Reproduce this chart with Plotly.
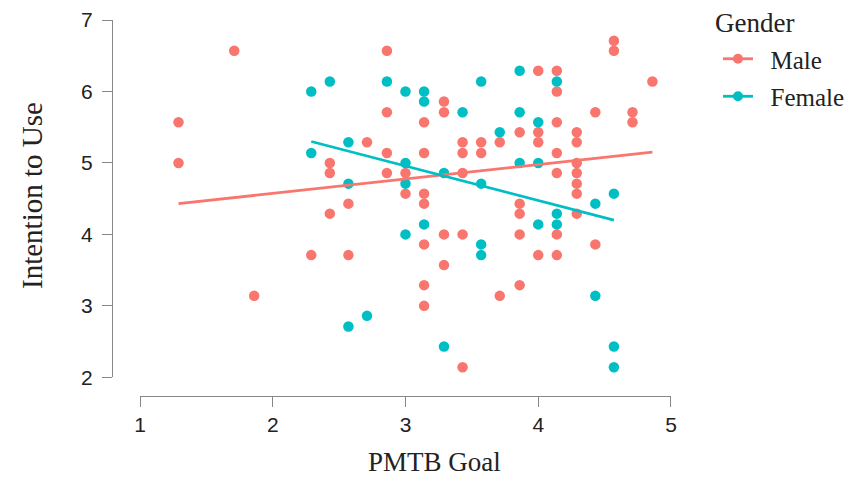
import plotly.graph_objects as go

# ---- data ----
male_x = [1.71, 1.29, 1.29, 2.86, 2.86, 2.71, 2.86, 2.43, 2.43, 2.86, 2.57, 2.43, 2.29, 2.57, 1.86,
          3.29, 3.29, 3.14, 4.00, 4.14, 4.14, 4.57, 4.57, 4.86, 4.43, 4.71, 4.71, 4.14, 3.86, 4.00,
          4.29, 3.43, 3.57, 3.71, 4.00, 4.29, 3.14, 3.43, 3.57, 4.14, 4.29, 3.00, 3.43, 4.14, 4.29,
          4.29, 3.00, 3.14, 4.29, 3.14, 3.86, 3.86, 4.29, 3.29, 3.43, 3.86, 4.14, 3.14, 4.43, 4.00,
          4.14, 3.29, 3.14, 3.86, 3.71, 3.14, 3.43]
male_y = [6.57, 5.57, 5.00, 6.57, 5.71, 5.29, 5.14, 5.00, 4.86, 4.86, 4.43, 4.29, 3.71, 3.71, 3.14,
          5.86, 5.71, 5.57, 6.29, 6.29, 6.00, 6.71, 6.57, 6.14, 5.71, 5.71, 5.57, 5.57, 5.43, 5.43,
          5.43, 5.29, 5.29, 5.29, 5.29, 5.29, 5.14, 5.14, 5.14, 5.14, 5.00, 4.86, 4.86, 4.86, 4.86,
          4.71, 4.57, 4.57, 4.57, 4.43, 4.43, 4.29, 4.29, 4.00, 4.00, 4.00, 4.00, 3.86, 3.86, 3.71,
          3.71, 3.57, 3.29, 3.29, 3.14, 3.00, 2.14]

female_x = [2.29, 2.43, 2.86, 2.29, 2.57, 2.57, 2.57, 2.71, 3.00, 3.14, 3.14, 3.43, 3.57, 3.86,
            4.14, 3.86, 4.00, 3.71, 3.00, 3.86, 4.00, 3.29, 3.00, 3.57, 4.43, 4.57, 4.14, 3.14,
            4.00, 4.14, 3.00, 3.57, 3.57, 4.43, 3.29, 4.57, 4.57]
female_y = [6.00, 6.14, 6.14, 5.14, 5.29, 4.71, 2.71, 2.86, 6.00, 6.00, 5.86, 5.71, 6.14, 6.29,
            6.14, 5.71, 5.57, 5.43, 5.00, 5.00, 5.00, 4.86, 4.71, 4.71, 4.43, 4.57, 4.29, 4.14,
            4.14, 4.14, 4.00, 3.86, 3.71, 3.14, 2.43, 2.43, 2.14]

# fitted regression lines (end points)
male_fit_x = [1.29, 4.86]
male_fit_y = [4.43, 5.15]
female_fit_x = [2.29, 4.57]
female_fit_y = [5.30, 4.20]

groups = ["Male", "Female"]
colors = {"Male": "#F8766D", "Female": "#00BFC4"}

x_ticks = [1, 2, 3, 4, 5]
y_ticks = [2, 3, 4, 5, 6, 7]

serif = "Liberation Serif, Times New Roman, serif"
sans = "Liberation Sans, Arial, sans-serif"

fig = go.Figure()

fig.add_trace(go.Scatter(x=male_x, y=male_y, mode="markers", showlegend=False,
                         marker=dict(color=colors["Male"], size=10.5), cliponaxis=False))
fig.add_trace(go.Scatter(x=female_x, y=female_y, mode="markers", showlegend=False,
                         marker=dict(color=colors["Female"], size=10.5), cliponaxis=False))
fig.add_trace(go.Scatter(x=male_fit_x, y=male_fit_y, mode="lines", showlegend=False,
                         line=dict(color=colors["Male"], width=2.8)))
fig.add_trace(go.Scatter(x=female_fit_x, y=female_fit_y, mode="lines", showlegend=False,
                         line=dict(color=colors["Female"], width=2.8)))

# legend entries
for g in groups:
    fig.add_trace(go.Scatter(x=[None], y=[None], mode="lines+markers",
                             name="\u00a0\u00a0" + g, legendgroup=g,
                             line=dict(color=colors[g], width=2.8),
                             marker=dict(color=colors[g], size=10)))

fig.update_layout(
    width=854, height=477,
    margin=dict(l=112, r=182, t=20, b=81, autoexpand=False),
    paper_bgcolor="white", plot_bgcolor="white",
    showlegend=True,
    legend=dict(font=dict(family=serif, size=25, color="#222"),
                x=1.0821, y=0.9574, xanchor="left", yanchor="top",
                itemwidth=30, tracegroupgap=2,
                bgcolor="rgba(0,0,0,0)"),
    xaxis=dict(domain=[0.05, 0.9982], range=[1, 5], anchor="free", position=0,
               tickvals=x_ticks, ticks="outside", ticklen=10, tickcolor="#888",
               showline=True, linecolor="#888", linewidth=1, showgrid=False, zeroline=False,
               tickfont=dict(family=sans, size=21, color="#222")),
    yaxis=dict(domain=[0.0497, 1], range=[2, 7], anchor="free", position=0,
               tickvals=y_ticks, ticks="outside", ticklen=10, tickcolor="#888",
               ticklabelstandoff=5,
               showline=True, linecolor="#888", linewidth=1, showgrid=False, zeroline=False,
               tickfont=dict(family=sans, size=21, color="#222")),
    annotations=[
        dict(text="PMTB Goal", x=0.575, y=-0.1755, xref="paper", yref="paper",
             xanchor="center", yanchor="middle", showarrow=False,
             font=dict(family=serif, size=27, color="#222")),
        dict(text="Intention to Use", x=-0.1429, y=0.5346, xref="paper", yref="paper",
             xanchor="center", yanchor="middle", showarrow=False, textangle=-90,
             font=dict(family=serif, size=29, color="#222")),
        dict(text="Gender", x=(713 - 112) / 560, y=(396 - 23) / 376, xref="paper", yref="paper",
             xanchor="left", yanchor="middle", showarrow=False,
             font=dict(family=serif, size=27, color="#222")),
    ],
)

fig.write_html("out.html")
